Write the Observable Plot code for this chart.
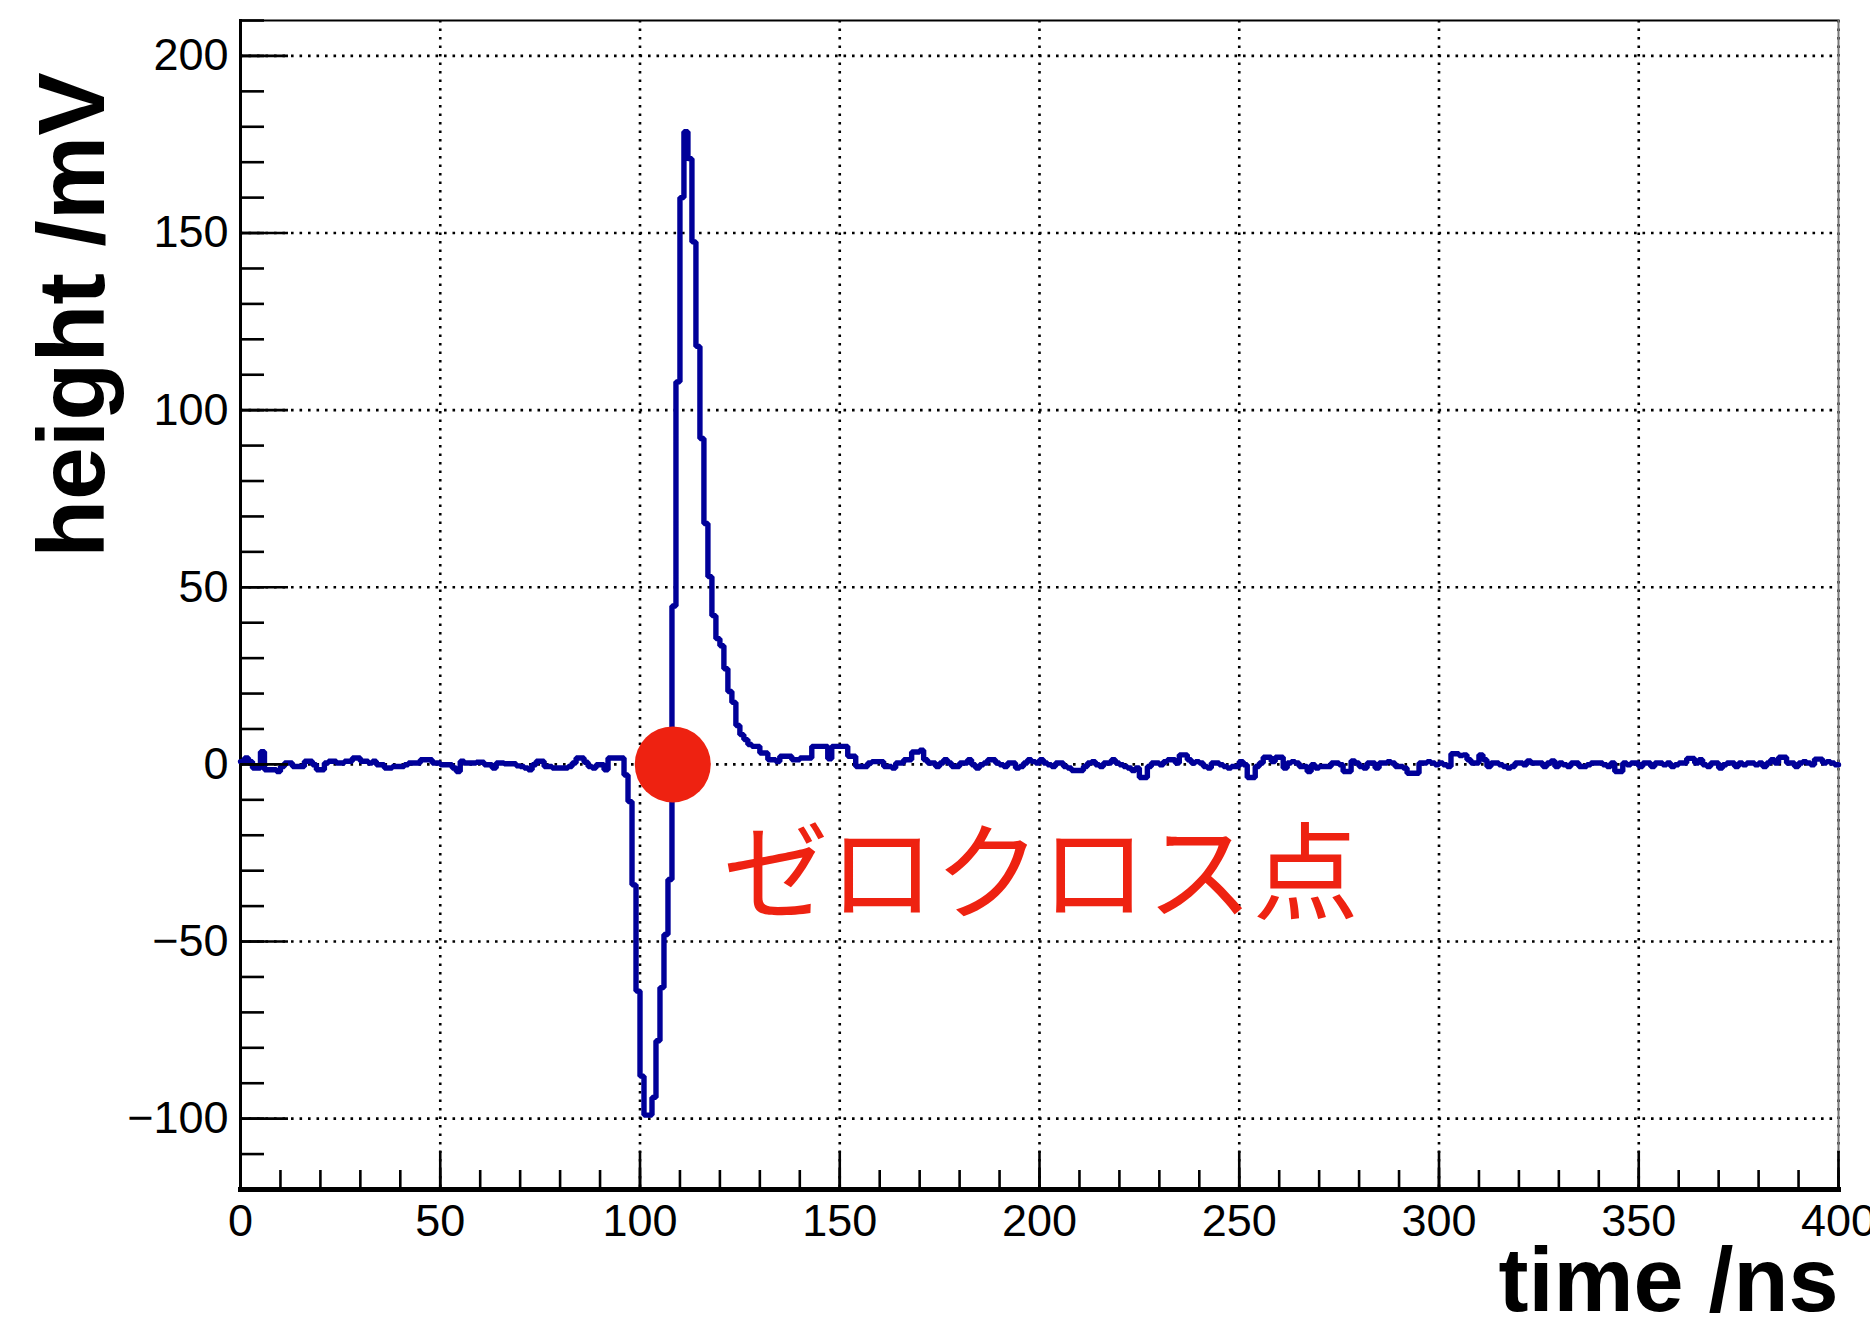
<!DOCTYPE html>
<html>
<head>
<meta charset="utf-8">
<script src="https://cdn.jsdelivr.net/npm/d3@7"></script>
<script src="https://cdn.jsdelivr.net/npm/@observablehq/plot@0.6"></script>
<style>
  html, body { margin: 0; padding: 0; background: #fff; }
  #chart svg { display: block; }
</style>
</head>
<body>
<div id="chart"></div>
<script>
// Waveform of one digitised pulse: 1 ns bins from 0 to 400 ns, height in mV.
const binWidthNs = 1;
const heightMV = [
  // 0–49 ns
  0.8, 1.8, 0.8, -1, -1, 3.6, -1.5, -1.5, -1.5, -2,
  -0.6, 0.4, 0.4, -0.6, -0.6, -0.6, 0.9, 0.9, -0.1, -1.5,
  -1.5, 0.4, 0.9, 0.9, 0.4, 0.4, 0.9, 0.9, 1.8, 1.8,
  0.9, 0.9, 0.4, 0.9, -0.1, -0.1, -1, -1, -0.6, -0.6,
  -0.6, -0.1, 0.4, 0.4, 0.4, 1.3, 1.3, 1.3, 0.4, 0.4,
  // 50–99 ns
  -0.1, -0.1, -0.1, -1, -2, 0.9, 0.4, 0.4, 0.4, 0.6,
  0.6, -0.1, -0.1, -1, 0.4, 0.4, 0.2, 0.2, 0.2, -0.4,
  -0.6, -1, -1.5, -0.1, 0.9, 0.9, -0.6, -0.6, -1, -1,
  -1, -1, -0.6, 0.4, 1.8, 1.8, 0.6, -0.6, -1, -0.1,
  -0.1, -1.5, 1.8, 1.8, 1.8, 1.8, -3, -10.5, -34, -64,
  // 100–149 ns
  -88, -99, -99, -94, -78, -63, -48, -32.5, 44.7, 108,
  160, 178.6, 171, 147.5, 118, 92, 68, 53, 42, 35.5,
  33.5, 27, 20.6, 17.5, 11, 8.4, 7, 5.6, 5.1, 5.1,
  3.2, 3.2, 1.3, 1.3, 0.8, 2.3, 2.3, 2.3, 1.3, 1.3,
  1.8, 1.8, 1.8, 5.1, 5.1, 5.1, 5.1, 1.6, 5.1, 5.1,
  // 150–199 ns
  5.1, 5.1, 2.3, 2.3, -0.6, -0.6, -0.6, 0.4, 0.8, 0.8,
  0.8, -0.6, -0.6, -1, 0.4, 0.4, 1.3, 1.3, 3.5, 3.5,
  4, 1.3, 0.4, 0.4, -0.6, 0.4, 1.3, 0.4, -0.6, -0.6,
  0.4, 0.4, 1.3, -0.1, -1, -0.1, 0.4, 1.3, 1.3, 0.4,
  -0.1, -0.6, 0.4, 0.4, -1, -0.6, 0.4, 1.3, 0.8, 0.4,
  // 200–249 ns
  1.3, 0.4, -0.1, -0.6, 0.4, 0.4, -0.6, -1, -1.7, -1.7,
  -1.7, -0.6, 0.4, 0.8, -0.1, -0.6, 0.4, 0.4, 1.3, 0.4,
  -0.1, -0.6, -1, -1.7, -1, -3.7, -3.7, -0.6, 0.4, 0.4,
  -0.1, 0.8, 1.3, 1.3, 0.4, 2.7, 2.7, 1.3, 0.4, 0.8,
  0.4, -0.6, -1, 0.4, 0.4, -0.1, -0.6, -1, -0.6, -0.6,
  // 250–299 ns
  0.8, -0.1, -3.7, -3.7, -0.6, 0.4, 2, 2, 0.8, 2,
  2, -1, 0.4, 0.8, 0.4, -0.6, -0.6, -2, -0.1, -1,
  -0.6, -0.6, -0.6, 0.4, 0.4, -0.1, -2, -2, 1, 0.4,
  -0.6, -1, 0.4, 0.4, -1, 0.4, 0.4, 0.8, 0.4, -0.6,
  -0.6, -1, -2.5, -2.5, -2.5, 0.4, 0.4, 0.8, 0.4, -0.1,
  // 300–349 ns
  0.4, -0.1, -0.6, 3, 3, 2.5, 2.7, 1.3, 0.4, 0.4,
  2.7, 1.3, -0.6, 0.4, 0.4, -0.1, -0.6, -1, -0.6, 0.4,
  0.4, -0.1, 1, 0.4, 0.4, 0.4, -0.6, 0.4, 1, -0.6,
  0.4, -0.1, -0.6, 0.4, 0.4, -0.6, -0.6, -0.1, 0.4, 0.4,
  0.4, -0.1, -0.6, 0.4, -2, -2, 0.4, -0.1, 0.4, 0.4,
  // 350–399 ns
  -0.6, 0.4, 0.4, -0.6, 0.4, 0.4, -0.1, 0.4, -0.6, -0.1,
  0.4, 0.4, 1.7, 1.7, 0.4, 1.3, -0.1, -0.6, 0.4, 0.4,
  -1, -0.1, 0.4, 0.4, -0.6, 0.4, -0.1, 0.4, 0.4, -0.1,
  0.4, -0.6, 0.4, 1.3, 0.4, 2, 2, 0.4, 0.4, -0.6,
  0.4, 0.8, 0.4, -0.1, 1.5, 1.5, 0.4, 0.8, 0.4, -0.1
];

// Axis ranges and tick values
const timeDomain = [0, 400];
const heightDomain = [-120, 210];
const timeMajorTicks = [0, 50, 100, 150, 200, 250, 300, 350, 400];
const timeMinorTicks = d3.range(0, 401, 10);
const heightMajorTicks = [-100, -50, 0, 50, 100, 150, 200];
const heightMinorTicks = d3.range(-120, 211, 10);

// Zero-crossing marker of the bipolar pulse
const zeroCross = [{t: 108.2, v: 0, label: "ゼロクロス点"}];

const xTitle = "time /ns";
const yTitle = "height /mV";

// Step line: each bin drawn flat across its width, closed at the right edge
const bins = heightMV.map((v, i) => ({t: i * binWidthNs, v}));
bins.push({t: heightMV.length * binWidthNs, v: heightMV[heightMV.length - 1]});

const waveBlue = "#000099";
const markRed = "#ee2211";
const dotted = {stroke: "#000", strokeOpacity: 1, strokeWidth: 2.6, strokeDasharray: "2.6,5.9"};

const chart = Plot.plot({
  width: 1870,
  height: 1329,
  marginLeft: 240,
  marginRight: 32,
  marginTop: 20,
  marginBottom: 140,
  style: {fontFamily: "'Liberation Sans', Arial, Helvetica, sans-serif", fontSize: "45px", color: "#000", background: "#fff"},
  x: {domain: timeDomain, label: null},
  y: {domain: heightDomain, label: null},
  marks: [
    // dotted grid at major ticks
    Plot.gridX({ticks: timeMajorTicks, ...dotted}),
    Plot.gridY({ticks: heightMajorTicks, ...dotted}),
    // frame
    Plot.frame({anchor: "top", stroke: "#000", strokeWidth: 2}),
    Plot.frame({anchor: "right", stroke: "#777", strokeWidth: 2}),
    Plot.frame({anchor: "left", stroke: "#000", strokeWidth: 3}),
    Plot.frame({anchor: "bottom", stroke: "#000", strokeWidth: 5}),
    // waveform
    Plot.line(bins, {x: "t", y: "v", curve: "step-after", stroke: waveBlue, strokeWidth: 5.4, strokeLinejoin: "miter"}),
    // inward ticks
    Plot.axisY({ticks: heightMinorTicks, tickSize: -24, text: null, strokeWidth: 2.6, label: null}),
    Plot.axisY({ticks: heightMajorTicks, tickSize: -48, text: null, strokeWidth: 2.6, label: null}),
    Plot.axisX({ticks: timeMinorTicks, tickSize: -19, text: null, strokeWidth: 2.6, label: null}),
    Plot.axisX({ticks: timeMajorTicks, tickSize: -38, text: null, strokeWidth: 2.6, label: null}),
    // tick labels
    Plot.axisY({ticks: heightMajorTicks, tickSize: 0, tickPadding: 12, fontSize: 45, label: null}),
    Plot.axisX({ticks: timeMajorTicks, tickSize: 0, tickPadding: 15, fontSize: 45, label: null}),
    // axis titles
    Plot.text([xTitle], {frameAnchor: "bottom-right", textAnchor: "end", lineAnchor: "bottom", dy: 121, fontSize: 90, fontWeight: "bold"}),
    Plot.text([yTitle], {frameAnchor: "top-left", textAnchor: "end", lineAnchor: "bottom", rotate: -90, dx: -137, dy: 52, fontSize: 95, fontWeight: "bold"}),
    // zero-crossing annotation
    Plot.dot(zeroCross, {x: "t", y: "v", r: 38, fill: markRed, stroke: null}),
    Plot.text(zeroCross, {x: "t", y: "v", text: "label", textAnchor: "start", lineAnchor: "bottom", dx: 50, dy: 147, fill: markRed, fontSize: 106, fontFamily: "'Noto Sans CJK JP', sans-serif"})
  ]
});

document.getElementById("chart").appendChild(chart);
</script>
</body>
</html>
